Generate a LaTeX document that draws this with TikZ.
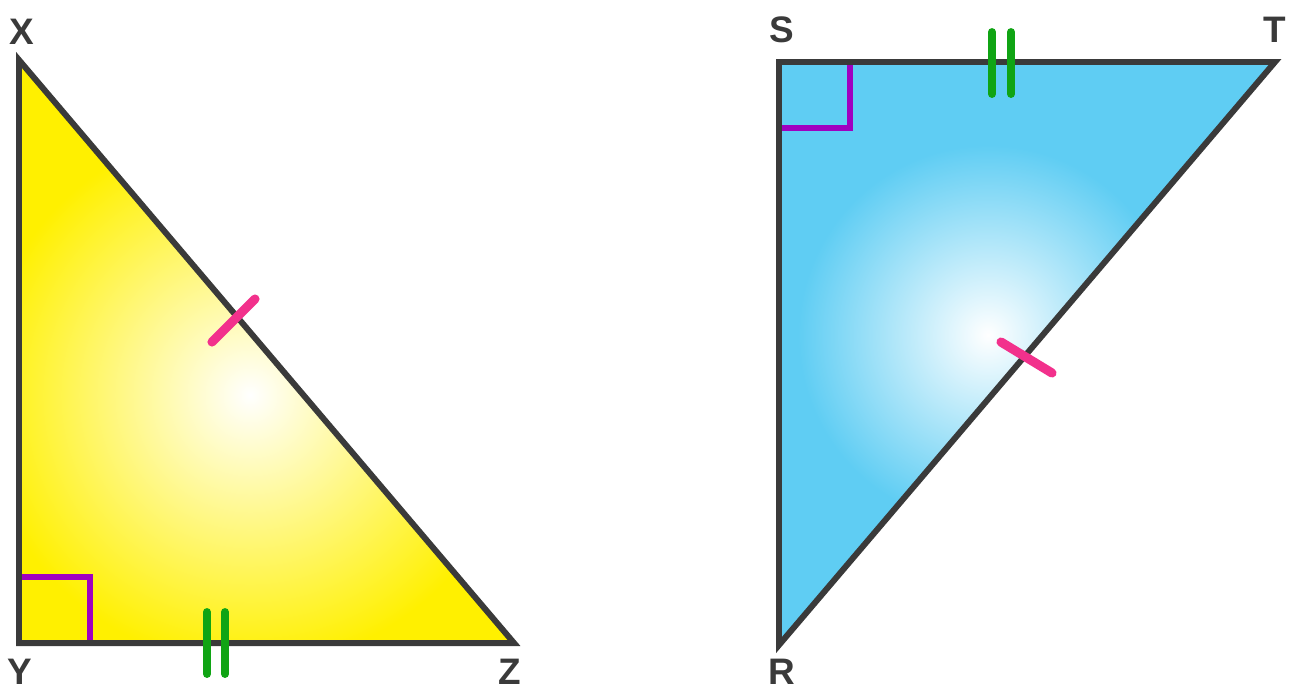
\documentclass[tikz,border=0pt]{standalone}
\usepackage{fontspec}
\setmainfont{Liberation Sans}
\usepackage{xcolor}
\usepackage{tikz}
\usetikzlibrary{calc}
\definecolor{TriYellow}{HTML}{FFF000}
\definecolor{TriBlue}{HTML}{5FCDF3}
\definecolor{EdgeGray}{HTML}{3A3A3A}
\definecolor{AnglePurple}{HTML}{A000C0}
\definecolor{TickGreen}{HTML}{10A414}
\definecolor{TickPink}{HTML}{F2318C}

\begin{document}
\begin{tikzpicture}[x=0.02cm, y=-0.02cm,
        edge/.style={draw=EdgeGray, line width=3.4pt, line join=miter},
        rangle/.style={draw=AnglePurple, line width=3.6pt},
        gtick/.style={draw=TickGreen, line width=4.5pt, line cap=round},
        ptick/.style={draw=TickPink, line width=5.2pt, line cap=round},
        vlabel/.style={text=EdgeGray, font=\fontsize{21}{24}\selectfont\bfseries, inner sep=0pt},
      ]
      \useasboundingbox (0,0) rectangle (1295,691);
      % vertices
      \coordinate (X) at (19,60);
      \coordinate (Y) at (19,643);
      \coordinate (Z) at (514,643);
      \coordinate (S) at (779,62);
      \coordinate (T) at (1275,62);
      \coordinate (R) at (779,645);
      % left triangle
      \begin{scope}
        \clip (X) -- (Y) -- (Z) -- cycle;
        \fill[TriYellow] (X) -- (Y) -- (Z) -- cycle;
        \shade[inner color=white, outer color=TriYellow] (250,395) circle (270);
      \end{scope}
      % right triangle
      \begin{scope}
        \clip (S) -- (T) -- (R) -- cycle;
        \fill[TriBlue] (S) -- (T) -- (R) -- cycle;
        \shade[inner color=white, outer color=TriBlue] (988,335) circle (190);
      \end{scope}
      % right angles
      \draw[rangle] (19,577) -- (90,577) -- (90,643);
      \draw[rangle] (850,62) -- (850,128) -- (779,128);
      \draw[edge] (X) -- (Y) -- (Z) -- cycle;
      \draw[edge] (S) -- (T) -- (R) -- cycle;
      % equal sides
      \draw[gtick] (207,612) -- (207,674);
      \draw[gtick] (225,612) -- (225,674);
      \draw[gtick] (992,32) -- (992,94);
      \draw[gtick] (1011,32) -- (1011,94);
      \draw[ptick] (212,342) -- (255,299);
      \draw[ptick] (1001,342) -- (1052,373);
      % labels
      \node[vlabel] (lx) at (22,32)   {X};
      \node[vlabel] (ly) at (20,672)  {Y};
      \node[vlabel] (lz) at (510,672) {Z};
      \node[vlabel] (ls) at (782,30)  {S};
      \node[vlabel] (lt) at (1275,30) {T};
      \node[vlabel] (lr) at (782,672) {R};
    \end{tikzpicture}
\end{document}
